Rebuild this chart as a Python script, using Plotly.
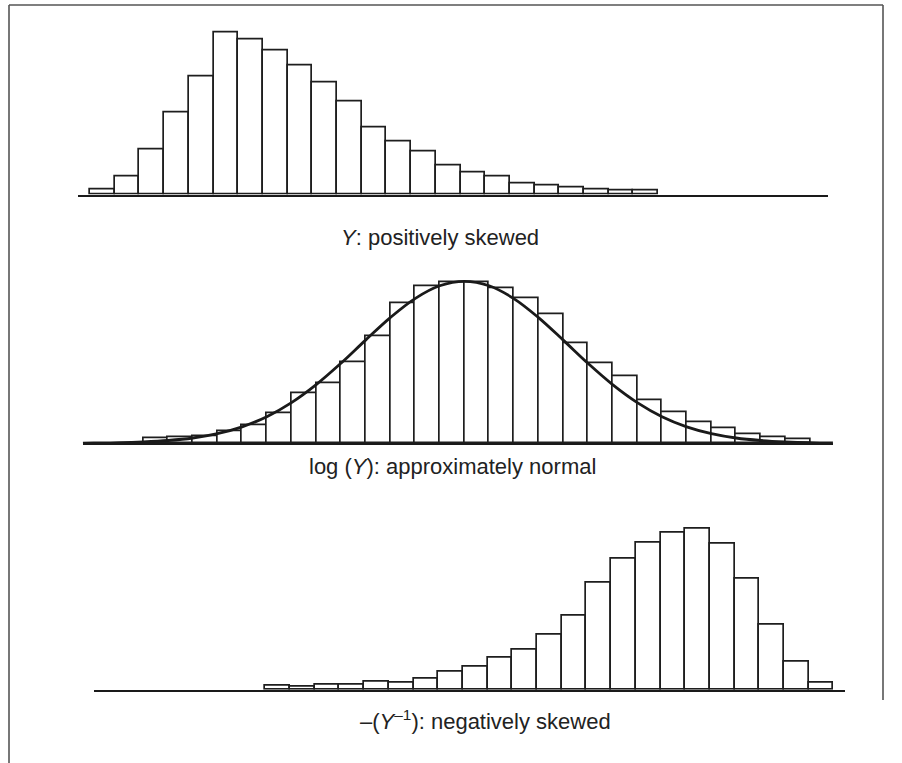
import plotly.graph_objects as go

W, H = 902, 763

# ---------------- data (bar heights, relative frequency units) ----------------
skew_pos_heights = [5, 17.7, 44.7, 82.3, 118.3, 161.7, 155.3, 143.7, 128.7, 111.7,
                    93, 66.7, 53, 43.3, 29.3, 22.3, 18.3, 11.3, 8.7, 6.7, 5, 3.7, 3.7]

log_heights = [5, 6.3, 7.3, 12.3, 18.3, 30, 50.3, 59.7, 80.7, 106.7, 139.7, 156.7,
               161, 161, 155, 144.7, 129, 99.7, 79.7, 67, 42.7, 30.7, 20.7, 14.7,
               9, 5.7, 3.7]

# fitted normal curve (bin position, height)
curve_x = [-2.45, -2, -1, 0, 1, 2, 3, 4, 5, 6, 7, 8, 9, 10, 11, 12, 13, 14, 15, 16,
           17, 18, 19, 20, 21, 22, 23, 24, 25, 26, 27, 27.92]
curve_y = [0.2, 0.28, 0.6, 1.4, 2.8, 5.3, 9.7, 16.5, 26.6, 40.7, 58.7, 80.0, 103.2,
           125.7, 144.7, 157.5, 162, 157.5, 144.7, 125.7, 103.2, 80.0, 58.7, 40.7,
           26.6, 16.5, 9.7, 5.3, 2.8, 1.4, 0.6, 0.3]

skew_neg_heights = [3.7, 3.3, 5, 5, 8, 7.3, 11.3, 17.7, 23.5, 32.3, 39.7, 55.3, 74.3,
                    107, 131, 147, 157.3, 161.3, 145.7, 111, 65.3, 27.7, 7]

labels = ["<i>Y</i>: positively skewed",
          "log (<i>Y</i>): approximately normal",
          "–(<i>Y</i><sup>–1</sup>): negatively skewed"]

# ---------------- layout helpers (pixel geometry) ----------------
BIN = 24.7  # px per bin
panels = [
    # first bar left px, axis start px, axis end px, baseline py
    dict(x0=90.0, a0=78.0, a1=828.0, base=194.5),
    dict(x0=143.3, a0=82.7, a1=833.0, base=443.3),
    dict(x0=265.3, a0=94.0, a1=845.0, base=689.8),
]
YSPAN = 170.0

fig = go.Figure()
series = [skew_pos_heights, log_heights, skew_neg_heights]
bar_line = dict(color="#1e1e1e", width=1.7)

for i, (p, hts) in enumerate(zip(panels, series)):
    ax = "" if i == 0 else str(i + 1)
    xs = [k + 0.5 for k in range(len(hts))]
    fig.add_trace(go.Bar(x=xs, y=hts, width=1.0,
                         marker=dict(color="white", line=bar_line),
                         xaxis="x" + ax, yaxis="y" + ax, showlegend=False,
                         hoverinfo="skip"))
    xr = [(p["a0"] - p["x0"]) / BIN, (p["a1"] - p["x0"]) / BIN]
    fig.layout["xaxis" + ax] = dict(domain=[p["a0"] / W, p["a1"] / W], range=xr,
                                    showline=True, linecolor="#1a1a1a", linewidth=2,
                                    showgrid=False, zeroline=False, showticklabels=False,
                                    ticks="", anchor="y" + ax, fixedrange=True)
    fig.layout["yaxis" + ax] = dict(domain=[1 - p["base"] / H, 1 - (p["base"] - YSPAN) / H],
                                    range=[0, YSPAN], visible=False, showgrid=False,
                                    zeroline=False, anchor="x" + ax, fixedrange=True)

fig.add_trace(go.Scatter(x=curve_x, y=curve_y, mode="lines",
                         line=dict(color="#1a1a1a", width=2.8, shape="spline"),
                         xaxis="x2", yaxis="y2", showlegend=False, hoverinfo="skip",
                         cliponaxis=False))

label_pos = [(440, 237), (452, 466), (485, 720)]
for txt, (px, py) in zip(labels, label_pos):
    fig.add_annotation(text=txt, x=px / W, y=1 - py / H, xref="paper", yref="paper",
                       showarrow=False, xanchor="center", yanchor="middle",
                       font=dict(family="Liberation Sans, Arial, sans-serif",
                                 size=22, color="#222222"))

# frame
frame = dict(color="#555555", width=1.6)
fig.add_shape(type="line", xref="paper", yref="paper", x0=9 / W, x1=9 / W,
              y0=1 - 5 / H, y1=0, line=frame)
fig.add_shape(type="line", xref="paper", yref="paper", x0=9 / W, x1=883 / W,
              y0=1 - 5 / H, y1=1 - 5 / H, line=frame)
fig.add_shape(type="line", xref="paper", yref="paper", x0=883 / W, x1=883 / W,
              y0=1 - 5 / H, y1=1 - 700 / H, line=frame)

fig.update_layout(width=W, height=H, margin=dict(l=0, r=0, t=0, b=0),
                  paper_bgcolor="white", plot_bgcolor="rgba(0,0,0,0)",
                  bargap=0, showlegend=False)

fig.write_html("out.html", config={"displayModeBar": False})
